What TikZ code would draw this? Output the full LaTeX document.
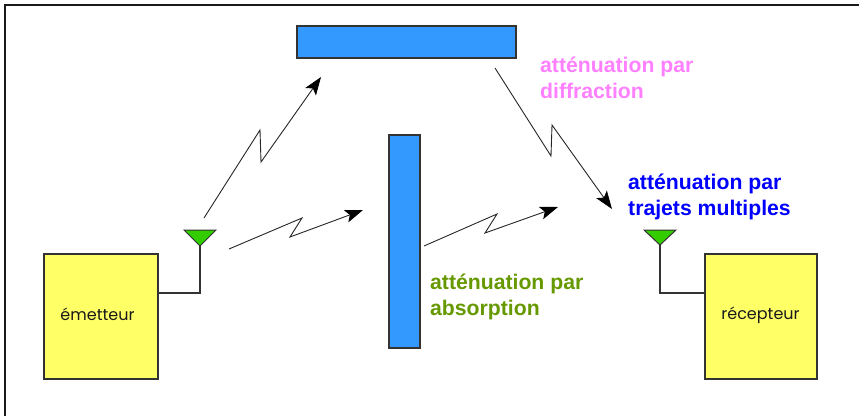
\documentclass[tikz,border=0pt]{standalone}
\usepackage{fontspec}
\setmainfont{Liberation Sans}
\newfontfamily\handfont{Poppins}
\definecolor{boxyellow}{HTML}{FFFF66}
\definecolor{wallblue}{HTML}{3399FF}
\definecolor{antgreen}{HTML}{33CC00}
\definecolor{lblpink}{HTML}{FF80FF}
\definecolor{lblblue}{HTML}{0000FF}
\definecolor{lblgreen}{HTML}{669900}
\definecolor{linegrey}{HTML}{333333}
\usetikzlibrary{arrows.meta}
\tikzset{
  unitbox/.style={draw=linegrey,line width=1.2pt,fill=boxyellow,inner sep=0pt,minimum width=#1,minimum height=125pt},
  unittext/.style={font=\handfont\fontsize{16}{18}\selectfont,text=black!90,inner sep=0pt},
  wall/.style={draw=linegrey,line width=1.2pt,fill=wallblue,inner sep=0pt},
  antenna/.style={draw=linegrey,line width=1pt,fill=antgreen,line join=miter},
  wire/.style={draw=linegrey,line width=1.2pt},
  bolt/.style={draw=black!85,line width=.9pt,line join=miter,-{Stealth[length=18pt,width=13pt,inset=4pt,black]}},
  lbl/.style={anchor=north west,align=left,inner sep=0pt,font=\bfseries\fontsize{21.2}{26}\selectfont},
  frameline/.style={draw=black!90,line width=1.8pt}
}
\begin{document}
\begin{tikzpicture}[x=1pt,y=-1pt]
\useasboundingbox (0,0) rectangle (859,416);
\coordinate (fa) at (5,416);
\coordinate (fb) at (5,5);
\coordinate (fc) at (859,5);
\draw[frameline] (fa) -- (fb) -- (fc);
% walls
\node[wall,minimum width=219pt,minimum height=32pt] (top) at (406.5,42) {};
\node[wall,minimum width=31pt,minimum height=213pt] (mid) at (404.5,241.5) {};
% units
\node[unitbox=114pt] (em) at (101,316.5) {};
\node[unittext] (emt) at (97.5,314) {émetteur};
\node[unitbox=112pt] (re) at (761,316.5) {};
\node[unittext] (ret) at (760.5,315) {récepteur};
% antennas
\coordinate (a1l) at (184,230); \coordinate (a1r) at (216,230); \coordinate (a1t) at (200,246);
\coordinate (a2l) at (644,230); \coordinate (a2r) at (676,230); \coordinate (a2t) at (660,245);
\draw[antenna] (a1l) -- (a1r) -- (a1t) -- cycle;
\draw[antenna] (a2l) -- (a2r) -- (a2t) -- cycle;
\coordinate (w1) at (200,293); \coordinate (e1) at (158,293);
\coordinate (w2) at (660,293); \coordinate (e2) at (705,293);
\draw[wire] (a1t) -- (w1) -- (e1);
\draw[wire] (a2t) -- (w2) -- (e2);
% bolts
\coordinate (p1) at (204,218); \coordinate (p2) at (260,130); \coordinate (p3) at (261,162); \coordinate (p4) at (321,77);
\draw[bolt] (p1) -- (p2) -- (p3) -- (p4);
\coordinate (q1) at (229,249); \coordinate (q2) at (302,218); \coordinate (q3) at (290,237); \coordinate (q4) at (363,210);
\draw[bolt] (q1) -- (q2) -- (q3) -- (q4);
\coordinate (r1) at (424,246); \coordinate (r2) at (497,214); \coordinate (r3) at (485,233); \coordinate (r4) at (558,207);
\draw[bolt] (r1) -- (r2) -- (r3) -- (r4);
\coordinate (s1) at (495,68); \coordinate (s2) at (551,156); \coordinate (s3) at (552,125); \coordinate (s4) at (612,209);
\draw[bolt] (s1) -- (s2) -- (s3) -- (s4);
% labels
\node[lbl,text=lblpink] (l1) at (540,57) {atténuation par\\diffraction};
\node[lbl,text=lblblue] (l2) at (628,174) {atténuation par\\trajets multiples};
\node[lbl,text=lblgreen] (l3) at (430,274) {atténuation par\\absorption};
\end{tikzpicture}
\end{document}
